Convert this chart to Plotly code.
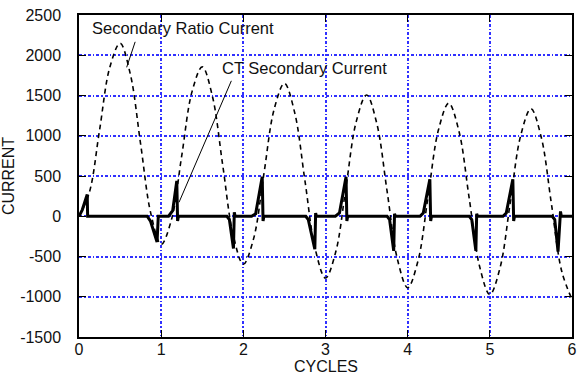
import plotly.graph_objects as go

# Secondary ratio current (primary current referred to the secondary), sampled every 1/8 cycle
cycles = [
    0.0, 0.125, 0.25, 0.375, 0.5, 0.625, 0.75, 0.875,
    1.0, 1.125, 1.25, 1.375, 1.5, 1.625, 1.75, 1.875,
    2.0, 2.125, 2.25, 2.375, 2.5, 2.625, 2.75, 2.875,
    3.0, 3.125, 3.25, 3.375, 3.5, 3.625, 3.75, 3.875,
    4.0, 4.125, 4.25, 4.375, 4.5, 4.625, 4.75, 4.875,
    5.0, 5.125, 5.25, 5.375, 5.5, 5.625, 5.75, 5.875,
    6.0,
]
secondary_ratio_current = [
    0, 292, 1070, 1851, 2149, 1764, 896, 30,
    -350, -43, 750, 1545, 1856, 1484, 628, -227,
    -596, -278, 525, 1330, 1651, 1287, 440, -407,
    -768, -442, 368, 1179, 1507, 1149, 308, -533,
    -888, -558, 258, 1074, 1406, 1053, 216, -621,
    -973, -638, 181, 1000, 1335, 985, 151, -683,
    -1032,
]

# CT secondary current: short pulses before the core saturates each half cycle
ct_cycles = [
    0.0, 0.04, 0.10, 0.105,
    0.83, 0.87, 0.95, 0.965,
    1.09, 1.12, 1.14, 1.19, 1.20, 1.21,
    1.80, 1.83, 1.88, 1.89, 1.90,
    2.10, 2.15, 2.23, 2.24, 2.25,
    2.76, 2.79, 2.87, 2.88, 2.89,
    3.12, 3.17, 3.25, 3.26, 3.27,
    3.75, 3.78, 3.83, 3.84, 3.85,
    4.15, 4.19, 4.27, 4.28, 4.29,
    4.75, 4.78, 4.83, 4.84, 4.85,
    5.16, 5.20, 5.28, 5.29, 5.30,
    5.76, 5.79, 5.83, 5.86, 5.87,
    6.0,
]
ct_secondary_current = [
    0, 80, 270, 0,
    0, -60, -320, 0,
    0, 50, 70, 440, -60, 0,
    0, -40, -400, 50, 0,
    0, 30, 490, -60, 0,
    0, -40, -410, 40, 0,
    0, 40, 490, -60, 0,
    0, -40, -430, 30, 0,
    0, 40, 460, -60, 0,
    0, -40, -430, 30, 0,
    0, 40, 460, -60, 0,
    0, -40, -440, 60, 0,
    0,
]

x_ticks = [0, 1, 2, 3, 4, 5, 6]
y_ticks = [-1500, -1000, -500, 0, 500, 1000, 1500, 2000, 2500]

FONT = "Liberation Sans, Arial, sans-serif"
TEXT_COLOR = "#111111"

fig = go.Figure()

fig.add_trace(go.Scatter(
    x=cycles, y=secondary_ratio_current,
    mode="lines", line=dict(color="black", width=1.6, dash="5px,4px", shape="spline"),
    name="Secondary Ratio Current", showlegend=False,
))
fig.add_trace(go.Scatter(
    x=ct_cycles, y=ct_secondary_current,
    mode="lines", line=dict(color="black", width=3),
    name="CT Secondary Current", showlegend=False,
))

axis_common = dict(
    showline=True, linecolor="black", linewidth=1.5, mirror="ticks",
    ticks="inside", ticklen=7, tickcolor="black", tickwidth=1,
    showgrid=True, gridcolor="#3030ff", gridwidth=1.6, griddash="3px,2px,1.5px,2px",
    zeroline=False,
    ticklabeloverflow="allow",
    tickfont=dict(family=FONT, size=16, color=TEXT_COLOR),
)

fig.update_xaxes(
    range=[0, 6], tickvals=x_ticks, ticktext=[str(v) for v in x_ticks],
    ticklabelstandoff=-3,
    **axis_common,
)
fig.update_yaxes(
    range=[-1500, 2500], tickvals=y_ticks, ticktext=[str(v) for v in y_ticks],
    ticklabelstandoff=13,
    title=dict(text="CURRENT", font=dict(family=FONT, size=16, color=TEXT_COLOR), standoff=2),
    **axis_common,
)

label_font = dict(family=FONT, size=16.5, color=TEXT_COLOR)
# x-axis title placed just under the tick labels
fig.add_annotation(x=0.5, y=-0.093, xref="paper", yref="paper", text="CYCLES",
                   showarrow=False, xanchor="center", yanchor="middle",
                   font=dict(family=FONT, size=16, color=TEXT_COLOR))
fig.add_annotation(x=0.13, y=2335, text="Secondary Ratio Current", showarrow=False,
                   xanchor="left", yanchor="middle", font=label_font)
fig.add_annotation(x=1.72, y=1840, text="CT Secondary Current", showarrow=False,
                   xanchor="left", yanchor="middle", font=label_font)
# leader lines from the labels to their curves
fig.add_annotation(x=0.58, y=1850, ax=9, ay=-27, text="", showarrow=True,
                   arrowhead=0, arrowwidth=1, arrowcolor="black", standoff=0)
fig.add_annotation(x=1.217, y=173, ax=53, ay=-123, text="", showarrow=True,
                   arrowhead=0, arrowwidth=1, arrowcolor="black", standoff=0)

fig.update_layout(
    width=579, height=375,
    margin=dict(l=79, r=2, t=15, b=38),
    paper_bgcolor="white", plot_bgcolor="white",
    showlegend=False,
)

fig.write_html("out.html")
